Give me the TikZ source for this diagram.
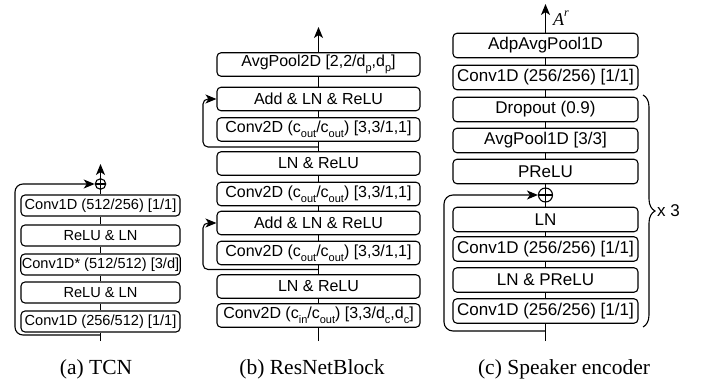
\documentclass[tikz,border=0pt]{standalone}
\usepackage{fontspec}
\setmainfont{Liberation Serif}
\newfontfamily\boxfont{Liberation Sans}
\usetikzlibrary{arrows.meta,decorations.pathreplacing,calc}
\newcommand\lsub[1]{\raisebox{-0.32em}{\fontsize{11}{11}\selectfont #1}}
\tikzset{
  blk/.style={draw, line width=1.1pt, rounded corners=4pt, inner xsep=1pt, inner ysep=0pt, font=\boxfont},
  blka/.style={blk, minimum width=159pt, minimum height=21pt, font=\boxfont\fontsize{14.6}{16}\selectfont},
  blkb/.style={blk, minimum width=203pt, minimum height=23.5pt, font=\boxfont\fontsize{16}{18}\selectfont},
  blkc/.style={blk, minimum width=185pt, minimum height=24.5pt, font=\boxfont\fontsize{17}{19}\selectfont},
  oplus/.style={draw, circle, line width=1.1pt, inner sep=0pt},
  conn/.style={line width=1.1pt},
  arr/.style={line width=1.1pt, -{Stealth[length=11pt,width=9pt,inset=3pt]}},
  captxt/.style={font=\fontsize{21.5}{24}\selectfont, anchor=base},
}
\begin{document}
\begin{tikzpicture}[x=1pt,y=-1pt]
\useasboundingbox (0,0) rectangle (702,380);

% ---------------- (a) TCN ----------------
\node[blka] (a1) at (100.5,205.5) {Conv1D (512/256) [1/1]};
\node[blka] (a2) at (100.5,235.5) {ReLU \& LN};
\node[blka] (a3) at (100.5,264.5) {Conv1D* (512/512) [3/d]};
\node[blka] (a4) at (100.5,292.5) {ReLU \& LN};
\node[blka] (a5) at (100.5,321.5) {Conv1D (256/512) [1/1]};
\node[oplus, minimum size=10.5pt] (ap) at (100.5,184) {};
\draw[conn] (ap.north) -- (ap.south) (ap.west) -- (ap.east);
\coordinate (ain) at (100.5,341);
\coordinate (asplit) at (100.5,335);
\coordinate (aout) at (100.5,164);
\draw[conn] (ain) -- (a5) -- (a4) -- (a3) -- (a2) -- (a1) -- (ap);
\draw[arr] (ap) -- (aout);
\draw[arr, rounded corners=8pt] (asplit) -- (15,335) -- (15,184) -- (ap.west);
\node[captxt] (capa) at (96,374) {(a) TCN};

% ---------------- (b) ResNetBlock ----------------
\node[blkb] (b1) at (318.5,64.5) {AvgPool2D [2,2/d\lsub{p},d\lsub{p}]};
\node[blkb] (b2) at (318.5,99) {Add \& LN \& ReLU};
\node[blkb] (b3) at (318.5,129.5) {Conv2D (c\lsub{out}/c\lsub{out}) [3,3/1,1]};
\node[blkb] (b4) at (318.5,163.5) {LN \& ReLU};
\node[blkb] (b5) at (318.5,194) {Conv2D (c\lsub{out}/c\lsub{out}) [3,3/1,1]};
\node[blkb] (b6) at (318.5,223) {Add \& LN \& ReLU};
\node[blkb] (b7) at (318.5,253) {Conv2D (c\lsub{out}/c\lsub{out}) [3,3/1,1]};
\node[blkb] (b8) at (318.5,286.5) {LN \& ReLU};
\node[blkb] (b9) at (318.5,315.5) {Conv2D (c\lsub{in}/c\lsub{out}) [3,3/d\lsub{c},d\lsub{c}]};
\coordinate (bin) at (318.5,341);
\coordinate (bout) at (318.5,27);
\coordinate (bs1) at (318.5,147);
\coordinate (bs2) at (318.5,269.5);
\draw[conn] (bin) -- (b9) -- (b8) -- (b7) -- (b6) -- (b5) -- (b4) -- (b3) -- (b2) -- (b1);
\draw[arr] (b1) -- (bout);
\draw[arr, rounded corners=5pt] (bs1) -- (203,147) -- (203,99) -- (b2.west);
\draw[arr, rounded corners=5pt] (bs2) -- (203,269.5) -- (203,223) -- (b6.west);
\node[captxt] (capb) at (312,374) {(b) ResNetBlock};

% ---------------- (c) Speaker encoder ----------------
\node[blkc] (c1) at (545.5,45.5) {AdpAvgPool1D};
\node[blkc] (c2) at (545.5,77.5) {Conv1D (256/256) [1/1]};
\node[blkc] (c3) at (545.5,109.5) {Dropout (0.9)};
\node[blkc] (c4) at (545.5,140.5) {AvgPool1D [3/3]};
\node[blkc] (c5) at (545.5,171.5) {PReLU};
\node[oplus, minimum size=14pt] (cp) at (545.5,195) {};
\draw[conn] (cp.north) -- (cp.south) (cp.west) -- (cp.east);
\node[blkc] (c6) at (545.5,219.5) {LN};
\node[blkc] (c7) at (545.5,249) {Conv1D (256/256) [1/1]};
\node[blkc] (c8) at (545.5,280) {LN \& PReLU};
\node[blkc] (c9) at (545.5,311) {Conv1D (256/256) [1/1]};
\coordinate (cin) at (545.5,341);
\coordinate (csplit) at (545.5,331);
\coordinate (cout) at (545.5,4);
\draw[conn] (cin) -- (c9) -- (c8) -- (c7) -- (c6) -- (cp) -- (c5) -- (c4) -- (c3) -- (c2) -- (c1);
\draw[arr] (c1) -- (cout);
\node[anchor=base west, inner sep=0pt, font=\fontsize{18}{20}\selectfont\itshape] (lar) at (553,25) {A\raisebox{0.45em}{\fontsize{12}{12}\selectfont r}};
\draw[arr, rounded corners=9pt] (csplit) -- (444,331) -- (444,195) -- (cp.west);
\draw[line width=1.1pt, decorate, decoration={brace, amplitude=12pt}] (643,95) -- (643,327);
\node[anchor=west, inner sep=0pt, font=\boxfont\fontsize{17}{19}\selectfont] (x3) at (657,211) {x 3};
\node[captxt] (capc) at (564,374) {(c) Speaker encoder};
\end{tikzpicture}
\end{document}
